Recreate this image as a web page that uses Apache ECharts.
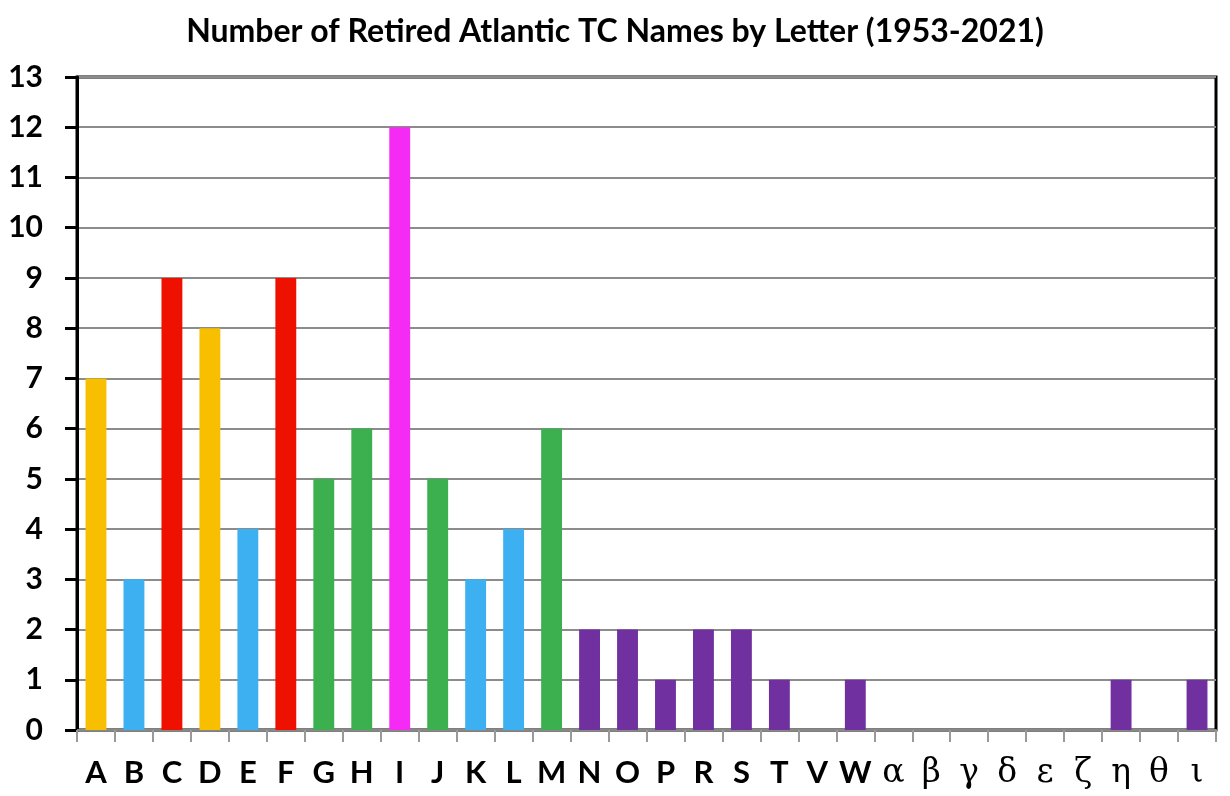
<!DOCTYPE html>
<html><head><meta charset="utf-8">
<script src="https://cdn.jsdelivr.net/npm/echarts@6/dist/echarts.min.js"></script>
<style>html,body{margin:0;padding:0;background:#fff}#c{width:1230px;height:796px}</style>
</head><body><div id="c"></div>
<script>
const categories = ['A','B','C','D','E','F','G','H','I','J','K','L','M','N','O','P','R','S','T','V','W','α','β','γ','δ','ε','ζ','η','θ','ι'];
const counts = [7,3,9,8,4,9,5,6,12,5,3,4,6,2,2,1,2,2,1,0,1,0,0,0,0,0,0,1,0,1];
const groups = ['y','b','r','y','b','r','g','g','m','g','b','b','g','p','p','p','p','p','p','p','p','p','p','p','p','p','p','p','p','p'];
const yTicks = [0,1,2,3,4,5,6,7,8,9,10,11,12,13];
const titleText = 'Number of Retired Atlantic TC Names by Letter (1953-2021)';

const palette = {y:'#F8BF00', b:'#3CB0F0', r:'#EE1100', g:'#3CB04E', m:'#F52AF5', p:'#7030A0'};
const greek = /[\u0370-\u03FF]/;

const chart = echarts.init(document.getElementById('c'));
chart.setOption({
  animation:false,
  backgroundColor:'#fff',
  title:{text:titleText, left:'center', top:11,
    textStyle:{fontFamily:'Lato', fontWeight:'bold', fontSize:32, color:'#000'}},
  grid:{left:77, right:14, top:77, bottom:66, show:true, borderColor:'#000', borderWidth:3, backgroundColor:'transparent'},
  xAxis:{type:'category', data:categories,
    axisLine:{lineStyle:{color:'#888', width:2}},
    axisTick:{show:true, length:12, lineStyle:{color:'#999', width:2}},
    axisLabel:{margin:27, interval:0,
      formatter:v => greek.test(v) ? '{g|'+v+'}' : '{l|'+v+'}',
      rich:{
        l:{fontFamily:'Lato', fontWeight:'bold', fontSize:31, color:'#000'},
        g:{fontFamily:'DejaVu Serif', fontSize:33, color:'#000'}
      }}},
  yAxis:{type:'value', min:0, max:13, interval:1,
    axisLine:{show:true, lineStyle:{color:'#000', width:3}},
    axisTick:{show:true, length:12, lineStyle:{color:'#000', width:3}},
    axisLabel:{margin:34, fontFamily:'Lato', fontWeight:'bold', fontSize:30, color:'#000',
      formatter:v => yTicks.includes(v) ? String(v) : ''},
    splitLine:{lineStyle:{color:'#8c8c8c', width:2}}},
  series:[{type:'bar', barCategoryGap:'45%',
    data:counts.map((v,i)=>({value:v, itemStyle:{color:palette[groups[i]]}}))}]
});
</script></body></html>
